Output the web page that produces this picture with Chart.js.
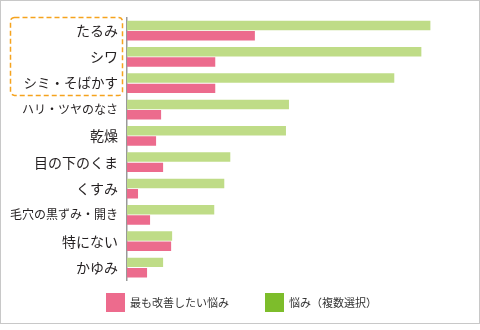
<!DOCTYPE html>
<html lang="ja">
<head>
<meta charset="utf-8">
<script src="https://cdn.jsdelivr.net/npm/chart.js@4.4.1/dist/chart.umd.min.js"></script>
<style>
  html, body { margin: 0; padding: 0; background: #fff; }
  #wrap { position: relative; width: 480px; height: 330px; }
</style>
</head>
<body>
<div id="wrap"><canvas id="chart" width="480" height="330"></canvas></div>
<script>
// 肌の悩み（%）
const categories = ['たるみ', 'シワ', 'シミ・そばかす', 'ハリ・ツヤのなさ', '乾燥', '目の下のくま', 'くすみ', '毛穴の黒ずみ・開き', '特にない', 'かゆみ'];
const worries = [60.5, 58.7, 53.3, 32.3, 31.7, 20.6, 19.4, 17.4, 9.0, 7.2];
const mostWanted = [25.5, 17.6, 17.6, 6.8, 5.8, 7.2, 2.2, 4.6, 8.8, 4.0];
const seriesNames = ['悩み（複数選択）', '最も改善したい悩み'];

const FONT = '"Noto Sans CJK JP", "Noto Sans", sans-serif';

// long labels are squeezed a little in the original
function labelSize(len) {
  if (len >= 9) return 12;
  if (len >= 8) return 12;
  if (len >= 7) return 13.5;
  return 14;
}

// frame, dashed highlight around the top three labels, and legend
const decorations = {
  id: 'decorations',
  beforeDraw(chart) {
    const ctx = chart.ctx;
    ctx.save();
    ctx.strokeStyle = '#c8c8c8';
    ctx.lineWidth = 1;
    ctx.strokeRect(0.5, 0.5, 479, 323);
    ctx.restore();
  },
  afterDraw(chart) {
    const ctx = chart.ctx;
    const y = chart.scales.y;
    const half = (y.getPixelForValue(1) - y.getPixelForValue(0)) / 2;
    const top = y.getPixelForValue(0) - half;
    const bottom = y.getPixelForValue(2) + half - 1;
    ctx.save();
    ctx.strokeStyle = '#f5a31e';
    ctx.lineWidth = 1.5;
    ctx.setLineDash([5, 3]);
    ctx.beginPath();
    ctx.roundRect(10.5, top, 112, bottom - top, 4);
    ctx.stroke();
    ctx.restore();

    // legend
    const items = [
      { text: seriesNames[1], color: '#ed6b8d', x: 106 },
      { text: seriesNames[0], color: '#7dbd2b', x: 265 }
    ];
    ctx.save();
    ctx.font = '11px ' + FONT;
    ctx.textBaseline = 'middle';
    items.forEach(it => {
      ctx.fillStyle = it.color;
      ctx.fillRect(it.x, 293, 19, 19);
      ctx.fillStyle = '#333';
      ctx.fillText(it.text, it.x + 24, 303);
    });
    ctx.restore();
  }
};

new Chart(document.getElementById('chart'), {
  type: 'bar',
  data: {
    labels: categories,
    datasets: [
      {
        label: seriesNames[0],
        data: worries,
        backgroundColor: '#bfdc87',
        barPercentage: 0.92,
        categoryPercentage: 0.78
      },
      {
        label: seriesNames[1],
        data: mostWanted,
        backgroundColor: '#ec6b8d',
        barPercentage: 0.92,
        categoryPercentage: 0.78
      }
    ]
  },
  options: {
    indexAxis: 'y',
    responsive: false,
    animation: false,
    layout: { padding: { top: 13.6, bottom: 49.3, left: 0, right: 12 } },
    plugins: {
      legend: { display: false },
      tooltip: { enabled: false }
    },
    scales: {
      x: {
        display: false,
        min: 0,
        max: 68
      },
      y: {
        grid: { display: false, drawTicks: false },
        border: { display: true, color: '#999', width: 1.5 },
        ticks: {
          padding: 9,
          color: '#231f20',
          font: (c) => ({ family: FONT, size: labelSize(categories[c.index].length) })
        },
        afterFit(scale) { scale.width = 127; }
      }
    }
  },
  plugins: [decorations]
});
</script>
</body>
</html>
